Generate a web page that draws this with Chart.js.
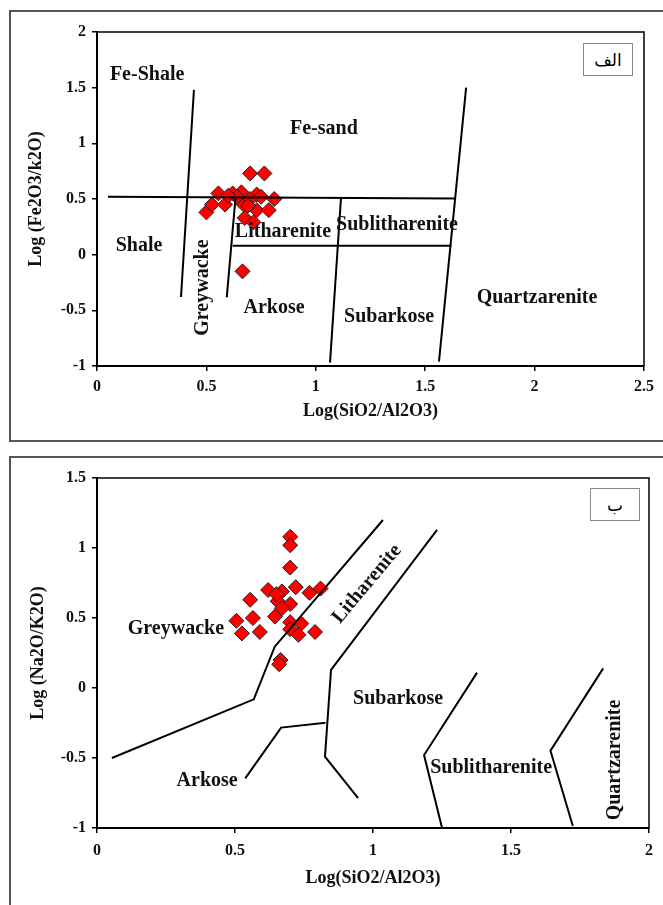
<!DOCTYPE html>
<html><head><meta charset="utf-8">
<script src="https://cdn.jsdelivr.net/npm/chart.js@4.4.1/dist/chart.umd.min.js"></script>
<style>
body{margin:0;width:663px;height:905px;overflow:hidden;background:#fff;position:relative}
.frame{position:absolute;border:2px solid #555;box-sizing:border-box}
#f1{left:9px;top:10px;width:680px;height:432px}
#f2{left:9px;top:456px;width:680px;height:480px}
.tag{position:absolute;z-index:5;border:1px solid #888;background:#fff;font-family:"DejaVu Sans";font-size:17px;display:flex;align-items:center;justify-content:center;box-sizing:border-box}
#t1{left:583px;top:43px;width:50px;height:33px}
#t2{left:590px;top:488px;width:50px;height:33px}
.cw{position:absolute;left:0;z-index:2}
#c1w{top:0;width:663px;height:450px}
#c2w{top:450px;width:663px;height:455px}
</style></head>
<body>
<div class="frame" id="f1"></div>
<div class="frame" id="f2"></div>
<div class="cw" id="c1w"><canvas id="c1"></canvas></div>
<div class="cw" id="c2w"><canvas id="c2"></canvas></div>
<div class="tag" id="t1">الف</div>
<div class="tag" id="t2">ب</div>
<script>
// ---------- Chart A (Herron) ----------
const aXTicks = [0, 0.5, 1, 1.5, 2, 2.5];
const aYTicks = [-1, -0.5, 0, 0.5, 1, 1.5, 2];
const aSampleX = [0.70,0.765,0.555,0.62,0.66,0.73,0.81,0.50,0.525,0.585,0.67,0.70,0.73,0.785,0.675,0.715,0.665,0.64,0.69,0.60,0.75];
const aSampleY = [0.73,0.73,0.55,0.55,0.56,0.54,0.50,0.38,0.45,0.45,0.45,0.50,0.40,0.40,0.33,0.29,-0.15,0.52,0.44,0.53,0.52];
const aLineFeShaleX = [0.443, 0.384];  const aLineFeShaleY = [1.48, -0.38];
const aLineTopX = [0.05, 1.64];        const aLineTopY = [0.52, 0.505];
const aLineGreyX = [0.633, 0.593];     const aLineGreyY = [0.51, -0.383];
const aLineLithX = [0.62, 1.62];       const aLineLithY = [0.081, 0.081];
const aLineSubX = [1.115, 1.065];      const aLineSubY = [0.505, -0.97];
const aLineQtzX = [1.687, 1.563];      const aLineQtzY = [1.50, -0.96];
const aRegionNames = ["Fe-Shale","Fe-sand","Shale","Greywacke","Litharenite","Sublitharenite","Arkose","Subarkose","Quartzarenite"];
const aRegionX = [0.229,1.037,0.192,0.484,0.85,1.371,0.809,1.335,2.011];
const aRegionY = [1.616,1.131,0.081,-0.296,0.206,0.269,-0.476,-0.557,-0.386];
const aRegionRot = [0,0,0,-90,0,0,0,0,0];

// ---------- Chart B (Pettijohn) ----------
const bXTicks = [0, 0.5, 1, 1.5, 2];
const bYTicks = [-1, -0.5, 0, 0.5, 1, 1.5];
const bSampleX = [0.70,0.70,0.70,0.62,0.67,0.72,0.77,0.81,0.555,0.655,0.70,0.67,0.645,0.505,0.565,0.525,0.59,0.70,0.74,0.70,0.73,0.79,0.665,0.66,0.65];
const bSampleY = [1.08,1.02,0.86,0.70,0.69,0.72,0.68,0.71,0.63,0.62,0.60,0.57,0.51,0.48,0.50,0.39,0.40,0.47,0.46,0.42,0.38,0.40,0.20,0.17,0.67];
const bLineGreyX = [0.054, 0.568, 0.644, 1.036]; const bLineGreyY = [-0.50, -0.081, 0.295, 1.20];
const bLineLithX = [0.946, 0.826, 0.848, 1.232]; const bLineLithY = [-0.786, -0.49, 0.13, 1.13];
const bLineArkX = [0.537, 0.667, 0.828];         const bLineArkY = [-0.645, -0.283, -0.248];
const bLineSublX = [1.377, 1.185, 1.25];         const bLineSublY = [0.11, -0.479, -0.998];
const bLineQtzX = [1.834, 1.643, 1.724];         const bLineQtzY = [0.14, -0.448, -0.986];
const bRegionNames = ["Greywacke","Litharenite","Subarkose","Arkose","Sublitharenite","Quartzarenite"];
const bRegionX = [0.286,0.978,1.091,0.399,1.428,1.877];
const bRegionY = [0.421,0.743,-0.079,-0.664,-0.571,-0.514];
const bRegionRot = [0,-50,0,0,0,-90];

const zip = (xs, ys) => xs.map((x, i) => ({x, y: ys[i]}));
const SERIF = '"Liberation Serif", "Times New Roman", serif';

function lineDs(xs, ys) {
  return {data: zip(xs, ys), showLine: true, pointRadius: 0, borderColor: '#000', borderWidth: 2, fill: false, order: 0};
}
function pointDs(xs, ys) {
  return {data: zip(xs, ys), showLine: false, pointStyle: 'rectRot', pointRadius: 7.5, backgroundColor: '#ff0000', borderColor: '#222', borderWidth: 1, order: 5};
}

const boxPlugin = {
  id: 'box',
  afterDraw(chart) {
    const {ctx, chartArea: a} = chart;
    ctx.save();
    ctx.strokeStyle = '#000'; ctx.lineWidth = 1.5;
    ctx.beginPath();
    ctx.moveTo(a.left, a.top); ctx.lineTo(a.right, a.top); ctx.lineTo(a.right, a.bottom);
    ctx.stroke();
    ctx.restore();
  }
};
function labelPlugin(names, xs, ys, rots) {
  return {
    id: 'regions',
    afterDatasetsDraw(chart) {
      const {ctx, scales} = chart;
      ctx.save();
      ctx.font = 'bold 20px ' + SERIF;
      ctx.fillStyle = '#111';
      ctx.textAlign = 'center'; ctx.textBaseline = 'middle';
      names.forEach((n, i) => {
        const px = scales.x.getPixelForValue(xs[i]);
        const py = scales.y.getPixelForValue(ys[i]);
        ctx.save();
        ctx.translate(px, py);
        ctx.rotate(rots[i] * Math.PI / 180);
        ctx.fillText(n, 0, 0);
        ctx.restore();
      });
      ctx.restore();
    }
  };
}

function makeChart(id, cfg) {
  const tickFont = {family: SERIF, size: 16, weight: 'bold'};
  const titleFont = {family: SERIF, size: 18, weight: 'bold'};
  return new Chart(document.getElementById(id), {
    type: 'scatter',
    data: {datasets: cfg.datasets},
    plugins: [boxPlugin, labelPlugin(cfg.names, cfg.rx, cfg.ry, cfg.rot)],
    options: {
      responsive: true, maintainAspectRatio: false, animation: false, devicePixelRatio: 1,
      layout: {padding: cfg.padding},
      plugins: {legend: {display: false}, tooltip: {enabled: false}},
      scales: {
        x: {
          type: 'linear', min: cfg.xTicks[0], max: cfg.xTicks[cfg.xTicks.length - 1],
          afterBuildTicks: s => { s.ticks = cfg.xTicks.map(v => ({value: v})); },
          afterFit: s => { s.height = cfg.xHeight; s.paddingLeft = 0; s.paddingRight = 0; },
          ticks: {color: '#111', font: tickFont, padding: cfg.xTickPad, maxRotation: 0, callback: v => String(v)},
          grid: {drawOnChartArea: false, drawTicks: true, tickLength: 5, color: '#000', lineWidth: 1.5},
          border: {display: true, color: '#000', width: 2},
          title: {display: true, text: 'Log(SiO2/Al2O3)', color: '#111', font: titleFont, padding: {top: 0, bottom: cfg.xTitlePad}}
        },
        y: {
          type: 'linear', min: cfg.yTicks[0], max: cfg.yTicks[cfg.yTicks.length - 1],
          afterBuildTicks: s => { s.ticks = cfg.yTicks.map(v => ({value: v})); },
          afterFit: s => { s.width = 97; s.paddingTop = 0; s.paddingBottom = 0; },
          ticks: {color: '#111', font: tickFont, padding: 6, callback: v => String(v)},
          grid: {drawOnChartArea: false, drawTicks: true, tickLength: 5, color: '#000', lineWidth: 1.5},
          border: {display: true, color: '#000', width: 2},
          title: {display: true, text: cfg.yTitle, color: '#111', font: titleFont, padding: {top: cfg.yTitlePad, bottom: 0}}
        }
      }
    }
  });
}

makeChart('c1', {
  datasets: [
    lineDs(aLineFeShaleX, aLineFeShaleY), lineDs(aLineTopX, aLineTopY), lineDs(aLineGreyX, aLineGreyY),
    lineDs(aLineLithX, aLineLithY), lineDs(aLineSubX, aLineSubY), lineDs(aLineQtzX, aLineQtzY),
    pointDs(aSampleX, aSampleY)
  ],
  names: aRegionNames, rx: aRegionX, ry: aRegionY, rot: aRegionRot,
  padding: {left: 0, top: 32, right: 19, bottom: 0},
  xTicks: aXTicks, yTicks: aYTicks, xHeight: 84, xTickPad: 6, xTitlePad: 28,
  yTitle: 'Log (Fe2O3/k2O)', yTitlePad: 26
});

makeChart('c2', {
  datasets: [
    lineDs(bLineGreyX, bLineGreyY), lineDs(bLineLithX, bLineLithY), lineDs(bLineArkX, bLineArkY),
    lineDs(bLineSublX, bLineSublY), lineDs(bLineQtzX, bLineQtzY),
    pointDs(bSampleX, bSampleY)
  ],
  names: bRegionNames, rx: bRegionX, ry: bRegionY, rot: bRegionRot,
  padding: {left: 0, top: 28, right: 14, bottom: 0},
  xTicks: bXTicks, yTicks: bYTicks, xHeight: 77, xTickPad: 8, xTitlePad: 16,
  yTitle: 'Log (Na2O/K2O)', yTitlePad: 28
});
</script>
</body></html>
